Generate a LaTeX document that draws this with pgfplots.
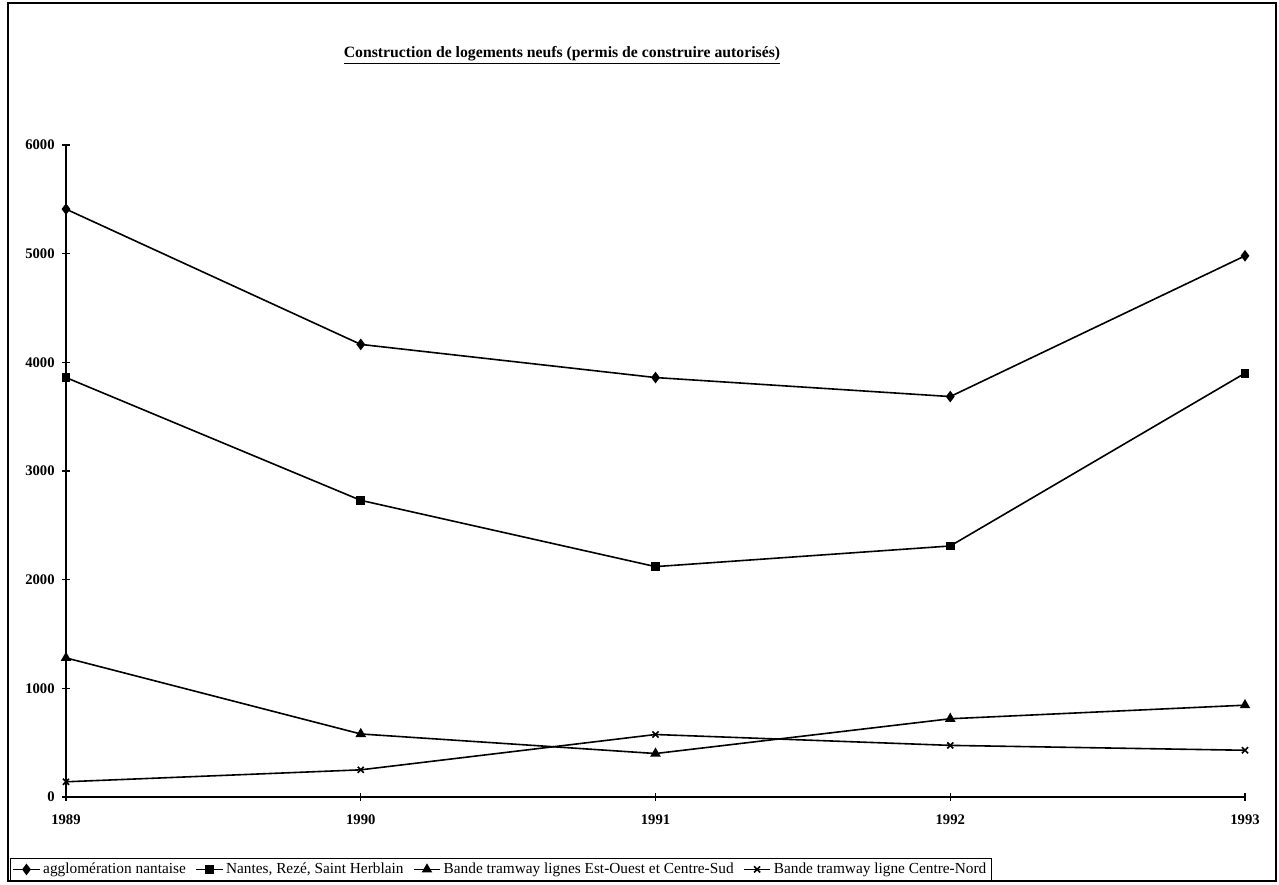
\documentclass[border=0pt]{standalone}
\usepackage{fontspec}
\setmainfont{Liberation Serif}
\usepackage{pgfplots}
\pgfplotsset{compat=1.18}
\begin{document}
\begin{tikzpicture}
\begin{scope}[x=0.75pt,y=0.75pt]
\useasboundingbox (0,0) rectangle (1279,885);
\draw[line width=0.9pt] (8,4) rectangle (1276,882);
\node[font=\bfseries\fontsize{11.8}{14}\selectfont] at (562,830) {\underline{Construction de logements neufs (permis de construire autorisés)}};
\end{scope}
\begin{axis}[
  at={(49.5pt,66pt)}, anchor=south west,
  width=884.25pt, height=489pt, scale only axis,
  xmin=1989, xmax=1993, ymin=0, ymax=6000,
  axis x line=bottom, axis y line=left,
  axis line style={-, line width=0.9pt},
  xtick={1989,1990,1991,1992,1993},
  ytick={0,1000,2000,3000,4000,5000,6000},
  tick align=center, major tick length=6pt,
  tick style={black, line width=0.8pt},
  ticklabel style={font=\bfseries\fontsize{11}{13}\selectfont},
  xticklabel style={yshift=-7pt},
  yticklabel style={xshift=-2pt},
  /pgf/number format/1000 sep={},
  /pgf/number format/assume math mode=true,
  clip=false,
  legend image code/.code={\draw[mark repeat=2,mark phase=2] plot coordinates {(0cm,0cm)(0.35cm,0cm)(0.7cm,0cm)};},
  legend columns=-1,
  legend style={at={(-0.0475,-0.0936)}, anchor=north west, draw=black, line width=0.6pt,
    font=\fontsize{11.5}{13}\selectfont, inner sep=1.5pt,
    /tikz/every even column/.append style={column sep=5pt}},
]
\addplot[black, line width=1.2pt, mark=diamond*, mark size=3.4pt, mark options={solid}] coordinates {(1989,5410)(1990,4165)(1991,3860)(1992,3685)(1993,4980)};
\addlegendentry{agglomération nantaise}
\addplot[black, line width=1.2pt, mark=square*, mark size=2.7pt, mark options={solid}] coordinates {(1989,3860)(1990,2730)(1991,2120)(1992,2310)(1993,3900)};
\addlegendentry{Nantes, Rezé, Saint Herblain}
\addplot[black, line width=1.2pt, mark=triangle*, mark size=3.4pt, mark options={solid}] coordinates {(1989,1280)(1990,580)(1991,400)(1992,720)(1993,845)};
\addlegendentry{Bande tramway lignes Est-Ouest et Centre-Sud}
\addplot[black, line width=1.2pt, mark=x, mark size=3.2pt, mark options={solid}] coordinates {(1989,140)(1990,250)(1991,575)(1992,475)(1993,430)};
\addlegendentry{Bande tramway ligne Centre-Nord}
\end{axis}
\end{tikzpicture}
\end{document}
